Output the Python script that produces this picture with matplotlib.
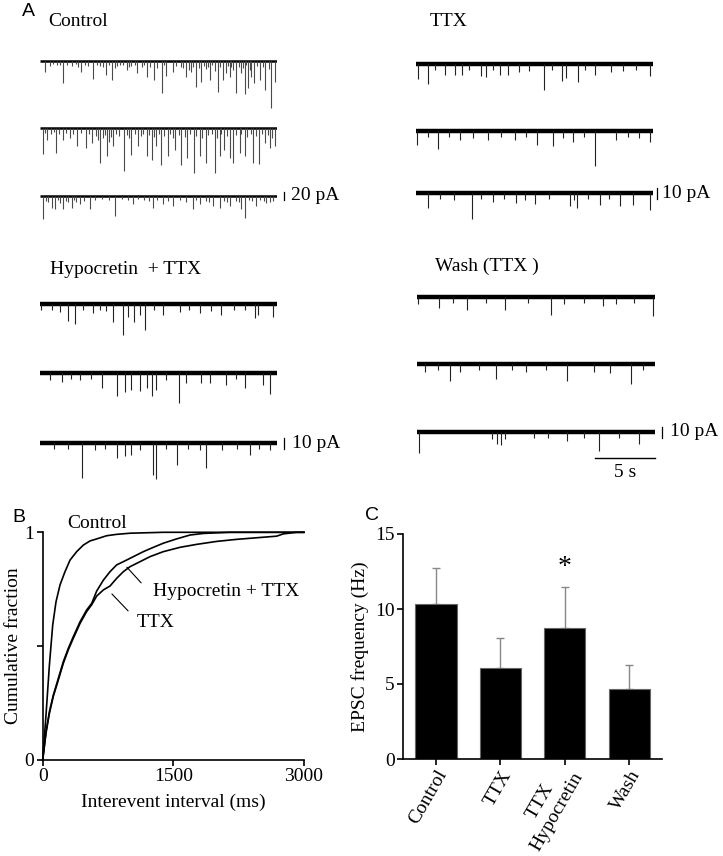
import numpy as np
import matplotlib.pyplot as plt
from matplotlib.transforms import ScaledTranslation

plt.rcParams['font.family'] = 'Liberation Serif'
plt.rcParams['font.size'] = 14

W, H = 723, 856

# ---------------- panel A: event times (s) and amplitudes (pA) ----------------
ctrl1_t = [0.42, 0.84, 1.4, 1.97, 2.67, 3.5, 4.07, 4.5, 5.06, 5.56, 6.04, 6.74, 7.3, 7.72, 8.15,
           8.57, 8.99, 9.6, 10.3, 10.67, 11.24, 11.94, 12.36, 12.78, 13.2, 13.62, 14.0, 14.33, 14.75,
           15.03, 15.45, 15.73, 16.0, 16.3, 16.57, 17.0, 17.28, 17.56, 17.84, 18.1, 18.54, 19.0,
           19.52, 19.8,
           1.1, 1.7, 2.3, 3.0, 3.2, 3.8, 4.8, 5.3, 5.8, 6.3, 6.5, 7.0, 7.5, 8.0, 8.8, 9.3, 9.9,
           10.5, 11.5, 12.1, 12.6, 12.9, 13.4, 13.8, 14.2, 14.5, 15.2, 15.9, 16.15, 16.8, 17.15,
           17.4, 17.7, 18.3, 18.8, 19.3]
ctrl1_a = [27, 12, 10, 54, 12, 27, 12, 46, 12, 35, 47, 10, 22, 12, 31, 15, 39, 47, 81, 37, 27, 15,
           39, 27, 66, 52, 20, 47, 25, 77, 47, 30, 39, 22, 79, 30, 83, 68, 40, 56, 47, 72, 118, 52,
           8, 10, 9, 8, 14, 10, 9, 14, 10, 18, 12, 9, 15, 10, 9, 14, 18, 10, 12, 18, 22, 14, 18, 12,
           16, 10, 14, 12, 15, 14, 18, 10, 22, 12, 16, 20]
ctrl2_t = [0.22, 0.56, 1.35, 1.97, 2.53, 3.15, 3.88, 4.35, 5.06, 5.62, 6.18, 7.08, 7.72, 8.29, 8.99,
           9.41, 9.83, 10.25, 10.81, 11.38, 11.94, 12.42, 13.0, 13.48, 13.99, 14.75, 15.17, 15.5,
           16.0, 16.29, 16.85, 17.28, 17.98, 18.48, 18.96, 19.38, 19.8,
           0.4, 0.9, 1.2, 1.6, 2.2, 2.8, 3.5, 4.1, 4.7, 4.9, 5.3, 5.5, 5.8, 6.0, 6.4, 6.7, 7.3,
           7.5, 8.0, 8.5, 8.7, 9.2, 9.6, 10.0, 10.5, 11.0, 11.2, 11.7, 12.2, 12.7, 13.2, 13.7,
           14.2, 14.5, 14.9, 15.3, 15.8, 16.5, 17.0, 17.5, 17.8, 18.2, 18.7, 19.2, 19.6]
ctrl2_a = [64, 29, 62, 29, 25, 46, 50, 37, 87, 71, 46, 108, 67, 46, 71, 79, 46, 92, 71, 54, 92, 75,
           112, 71, 87, 112, 71, 54, 75, 87, 62, 71, 87, 90, 37, 50, 46,
           12, 15, 10, 14, 12, 15, 12, 16, 20, 30, 25, 18, 35, 22, 14, 20, 18, 25, 16, 20, 14, 18,
           22, 16, 20, 15, 25, 18, 22, 16, 20, 25, 18, 15, 25, 16, 20, 18, 15, 22, 16, 20, 14, 18, 25]
ctrl3_t = [0.22, 0.98, 1.26, 1.91, 2.67, 3.37, 4.21, 6.32, 7.87, 9.55, 10.39, 11.24, 12.92, 13.48,
           14.61, 15.17, 16.01, 17.0, 17.28, 18.26, 19.1, 19.66,
           0.5, 0.7, 1.5, 1.7, 2.2, 2.4, 2.9, 3.0, 3.7, 4.6, 5.2, 5.8, 6.9, 7.4, 8.3, 8.8, 9.2,
           9.9, 10.8, 11.8, 12.3, 13.2, 14.0, 14.3, 15.5, 15.8, 16.5, 16.8, 17.6, 17.9, 18.6,
           18.9, 19.4]
ctrl3_a = [58, 29, 33, 33, 29, 21, 33, 50, 21, 29, 21, 25, 33, 21, 25, 29, 25, 33, 54, 25, 17, 12,
           12, 15, 10, 18, 12, 15, 10, 14, 12, 10, 8, 10, 8, 10, 8, 10, 12, 10, 12, 10, 14, 10, 12,
           15, 12, 14, 12, 15, 10, 12, 10, 12, 14]

ttx1_t = [0.2, 0.98, 2.44, 3.29, 3.85, 5.45, 5.9, 7.08, 7.78, 8.71, 10.79, 12.28, 12.7, 13.68,
          15.08, 16.49, 19.78, 1.6, 4.5, 6.5, 9.5, 11.5, 14.3, 17.5, 18.6]
ttx1_a = [14, 18, 10, 10, 10, 11, 12, 10, 10, 7, 24, 15, 13, 16, 10, 7, 11, 5, 5, 5, 6, 5, 5, 6, 5]
ttx2_t = [0.05, 1.88, 3.71, 6.1, 8.34, 10.17, 11.52, 13.26, 15.08, 16.91, 19.72,
          1.0, 2.8, 4.8, 7.2, 9.3, 12.4, 14.2, 17.9, 18.8]
ttx2_a = [13, 16, 8, 8, 8, 13, 14, 10, 32, 8, 10, 5, 5, 6, 5, 5, 6, 5, 5, 6]
ttx3_t = [1.04, 4.69, 6.52, 8.48, 10.03, 12.98, 13.6, 15.51, 17.19, 18.31, 19.72,
          2.0, 3.2, 5.5, 7.4, 9.2, 11.2, 13.3, 14.5, 16.3]
ttx3_a = [14, 24, 8, 9, 10, 12, 14, 11, 12, 11, 15, 5, 6, 5, 5, 6, 5, 6, 5, 5]

hyp1_t = [0.05, 1.69, 2.39, 2.95, 4.49, 5.06, 6.18, 6.97, 7.44, 7.92, 8.43, 8.9, 10.34, 11.8,
          13.48, 15.31, 18.12, 18.4, 19.66, 1.0, 3.6, 5.6, 9.6, 12.6, 14.4, 16.4, 17.3]
hyp1_a = [5, 7, 15, 18, 8, 5, 16, 28, 12, 16, 10, 24, 10, 7, 8, 10, 13, 10, 12, 5, 5, 6, 5, 5,
          6, 5, 5]
hyp2_t = [0.84, 1.83, 3.37, 5.2, 6.52, 7.16, 7.64, 8.43, 8.99, 9.41, 9.83, 11.69, 12.36, 13.62,
          14.33, 15.73, 17.28, 18.82, 19.44, 2.6, 4.3, 10.6, 16.5]
hyp2_a = [6, 8, 6, 14, 21, 17, 15, 16, 14, 21, 15, 27, 9, 9, 9, 11, 14, 11, 19, 5, 5, 6, 5]
hyp3_t = [3.51, 6.46, 7.16, 7.72, 9.55, 9.83, 11.52, 13.48, 14.04, 17.7, 19.38,
          1.2, 2.4, 4.6, 5.5, 8.4, 10.6, 12.5, 15.4, 16.6, 18.5]
hyp3_a = [32, 14, 12, 11, 29, 33, 20, 6, 23, 11, 6, 5, 5, 6, 5, 6, 5, 5, 6, 5, 5]

wash1_t = [0.05, 1.83, 4.21, 7.39, 11.24, 12.36, 15.59, 16.71, 19.8, 3.0, 5.8, 9.3, 14.0, 18.2]
wash1_a = [6, 10, 12, 12, 16, 6, 8, 6, 17, 5, 5, 5, 5, 5]
wash2_t = [0.7, 2.75, 3.65, 6.6, 9.13, 12.64, 14.89, 16.24, 17.98, 1.8, 5.2, 8.0, 10.8, 19.0]
wash2_a = [7, 15, 7, 14, 7, 15, 7, 8, 18, 5, 5, 5, 5, 5]
wash3_t = [0.14, 6.74, 7.02, 12.64, 15.31, 18.68, 6.3, 7.4, 9.8, 11.0, 14.0, 17.0]
wash3_a = [19, 11, 12, 8, 17, 11, 6, 6, 5, 5, 5, 5]

# ---------------- panel B: cumulative distributions ----------------
ctrl_ms = [0, 38, 77, 115, 153, 199, 256, 314, 390, 467, 543, 620, 735, 850, 1003, 1385, 3000]
ctrl_cf = [0, 0.198, 0.417, 0.593, 0.695, 0.769, 0.827, 0.878, 0.915, 0.944, 0.962, 0.971,
           0.985, 0.991, 0.996, 1.0, 1.0]
hyp_ms = [0, 38, 77, 122, 180, 237, 295, 352, 429, 505, 563, 620, 697, 773, 850, 926, 1041,
          1156, 1271, 1385, 1538, 1692, 1845, 2151, 3000]
hyp_cf = [0, 0.124, 0.212, 0.285, 0.359, 0.432, 0.491, 0.542, 0.607, 0.659, 0.688, 0.742, 0.790,
          0.827, 0.857, 0.871, 0.893, 0.915, 0.934, 0.952, 0.971, 0.988, 0.995, 1.0, 1.0]
ttx_ms = [0, 38, 77, 122, 180, 237, 295, 352, 429, 505, 563, 620, 697, 773, 850, 926, 1003,
          1118, 1232, 1385, 1577, 1768, 1998, 2227, 2457, 2687, 2763, 2916, 3000]
ttx_cf = [0, 0.118, 0.205, 0.280, 0.352, 0.425, 0.485, 0.535, 0.600, 0.652, 0.682, 0.720, 0.747,
          0.764, 0.798, 0.827, 0.849, 0.871, 0.893, 0.915, 0.934, 0.947, 0.960, 0.969, 0.976,
          0.983, 0.993, 1.0, 1.0]

# ---------------- panel C: EPSC frequency ----------------
conds = ['Control', 'TTX', 'TTX\nHypocretin', 'Wash']
freq = [10.35, 6.04, 8.75, 4.7]
sem = [2.4, 2.0, 2.7, 1.6]

fig = plt.figure(figsize=(W / 100, H / 100), dpi=100)


def fx(x):
    return x / W


def fy(y):
    return 1 - y / H


def trace_group(x0, x1, bases, scale, traces, lw, evcol):
    top, bot = bases[0] - 25, bases[-1] + 60
    ax = fig.add_axes([fx(x0), fy(bot), (x1 - x0) / W, (bot - top) / H])
    ax.set_xlim(0, 20)
    ax.set_ylim(-(bot - bases[0]) / scale, (bases[0] - top) / scale)
    ax.axis('off')
    offs = [-(b - bases[0]) / scale for b in bases]
    for off, (ts, amps) in zip(offs, traces):
        ax.plot([0, 20], [off, off], color='black', lw=lw, solid_capstyle='butt')
        ax.vlines(ts, off, [off - a for a in amps], color=evcol, lw=0.8)
    return ax, offs


# group labels
fig.text(fx(22), fy(11), 'A', family='Liberation Sans', fontsize=14, va='center')
fig.text(fx(48), fy(22), 'Control', va='center')
fig.text(fx(430), fy(22), 'TTX', va='center')
fig.text(fx(50), fy(269), 'Hypocretin  + TTX', va='center')
fig.text(fx(435), fy(266), 'Wash (TTX )', va='center')

ax, offs = trace_group(40, 277, [61, 128, 196], 0.4,
                       [(ctrl1_t, ctrl1_a), (ctrl2_t, ctrl2_a), (ctrl3_t, ctrl3_a)], 1.8, '#4a4a4a')
ax.plot([20.6, 20.6], [offs[2] - 10, offs[2] + 10], color='black', lw=0.9, clip_on=False)
ax.text(21.2, offs[2], '20 pA', va='center', clip_on=False)

ax, offs = trace_group(416, 653, [64, 131, 193], 1.1,
                       [(ttx1_t, ttx1_a), (ttx2_t, ttx2_a), (ttx3_t, ttx3_a)], 3.2, '#222222')
ax.plot([20.3, 20.3], [offs[2] - 5, offs[2] + 5], color='black', lw=0.9, clip_on=False)
ax.text(20.8, offs[2], '10 pA', va='center', clip_on=False)

ax, offs = trace_group(40, 277, [304, 373, 443], 1.1,
                       [(hyp1_t, hyp1_a), (hyp2_t, hyp2_a), (hyp3_t, hyp3_a)], 3.2, '#222222')
ax.plot([20.6, 20.6], [offs[2] - 5, offs[2] + 5], color='black', lw=0.9, clip_on=False)
ax.text(21.3, offs[2], '10 pA', va='center', clip_on=False)

ax, offs = trace_group(417, 655, [297, 364, 432], 1.1,
                       [(wash1_t, wash1_a), (wash2_t, wash2_a), (wash3_t, wash3_a)], 3.2, '#222222')
ax.plot([20.6, 20.6], [offs[2] - 5, offs[2] + 5], color='black', lw=0.9, clip_on=False)
ax.text(21.3, offs[2], '10 pA', va='center', clip_on=False)
ax.plot([15, 20], [offs[2] - 24, offs[2] - 24], color='black', lw=1, clip_on=False)
ax.text(17.5, offs[2] - 29, '5 s', ha='center', va='top', clip_on=False)

# ---------------- panel B ----------------
axb = fig.add_axes([fx(42.7), fy(760), 261.2 / W, 227.7 / H])
axb.plot(ctrl_ms, ctrl_cf, color='black', lw=1.2, clip_on=False)
axb.plot(ttx_ms, ttx_cf, color='black', lw=1.2, clip_on=False)
axb.plot(hyp_ms, hyp_cf, color='black', lw=1.2, clip_on=False)
axb.set_xlim(0, 3000)
axb.set_ylim(0, 1)
axb.set_xticks([0, 1500, 3000])
axb.set_yticks([0, 0.5, 1])
axb.set_yticklabels(['0', '', '1'])
for s in ['top', 'right']:
    axb.spines[s].set_visible(False)
for s in ['left', 'bottom']:
    axb.spines[s].set_linewidth(1.2)
axb.tick_params(direction='out', length=4, width=1.2, pad=2)
axb.set_xlabel('Interevent interval (ms)', labelpad=6)
axb.set_ylabel('Cumulative fraction', labelpad=2)
axb.annotate('', xy=(945, 0.856), xytext=(1152, 0.769),
             arrowprops=dict(arrowstyle='-', lw=0.8, color='black'))
axb.text(1267, 0.738, 'Hypocretin + TTX', va='center')
axb.annotate('', xy=(773, 0.738), xytext=(1003, 0.646),
             arrowprops=dict(arrowstyle='-', lw=0.8, color='black'))
axb.text(1083, 0.606, 'TTX', va='center')
axb.text(279, 1.0, 'Control', va='bottom')
fig.text(fx(12), fy(517), 'B', family='Liberation Sans', fontsize=14, va='center')

# ---------------- panel C ----------------
axc = fig.add_axes([fx(403), fy(759), 259 / W, 225 / H])
x = np.arange(len(conds))
axc.errorbar(x, freq, yerr=[[0] * len(sem), sem], fmt='none', ecolor='#888888',
             elinewidth=1, capsize=3, capthick=1, zorder=1)
axc.bar(x, freq, width=0.64, color='black', edgecolor='#666666', linewidth=0.8, zorder=2)
axc.set_xlim(-0.513, 3.51)
axc.set_ylim(0, 15)
axc.set_yticks([0, 5, 10, 15])
axc.set_xticks(x)
# the two-line label is drawn by hand so it can sit a little higher
axc.set_xticklabels([c if '\n' not in c else '' for c in conds], rotation=60, ha='right',
                    va='top', rotation_mode='anchor')
for i, c in enumerate(conds):
    if '\n' in c:
        axc.text(x[i], 0, c, rotation=60, ha='right', va='top', rotation_mode='anchor',
                 multialignment='center',
                 transform=axc.get_xaxis_transform() + ScaledTranslation(-0.1, 0.0, fig.dpi_scale_trans))
for s in ['top', 'right']:
    axc.spines[s].set_visible(False)
for s in ['left', 'bottom']:
    axc.spines[s].set_linewidth(1.2)
axc.spines['left'].set_bounds(0, 15)
axc.tick_params(direction='out', length=4, width=1.2, pad=2)
axc.set_ylabel('EPSC frequency (Hz)', labelpad=4)
axc.text(2, 12.8, '*', ha='center', va='center', fontsize=20)
fig.text(fx(365), fy(515), 'C', family='Liberation Sans', fontsize=14, va='center')

fig.savefig('out.png', dpi=100)
